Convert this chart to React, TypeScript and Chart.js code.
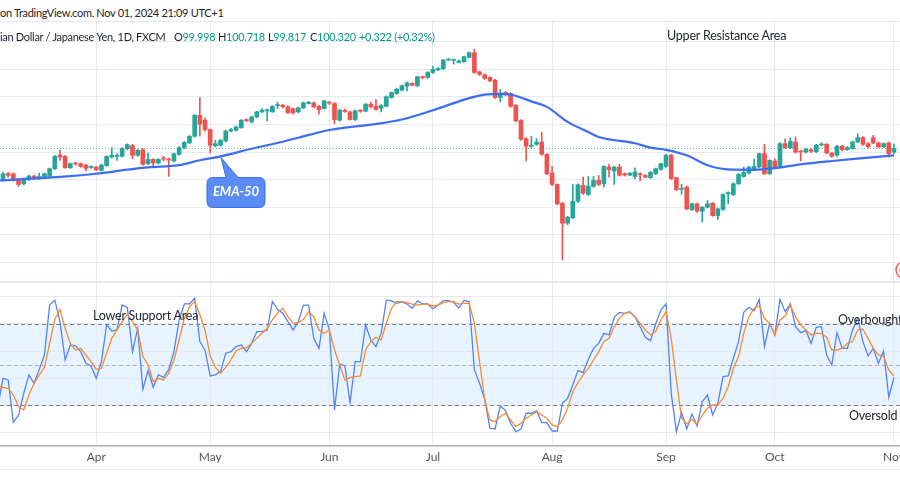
import React, { useEffect, useRef } from "react";
import { Chart, registerables } from "chart.js";

Chart.register(...registerables);

// ---------- categories / calendar ----------
const START_DATE = "2024-03-06"; // first daily bar (weekdays only)
const monthLabels = ["Apr", "May", "Jun", "Jul", "Aug", "Sep", "Oct", "Nov"];

// ---------- AUD/JPY daily OHLC ----------
const openP = [
  97.48, 98.02, 98.02, 97.48, 97.11, 97.48, 97.81, 97.57, 97.66, 97.78,
  98.48, 99.70, 99.60, 98.57, 98.97, 98.94, 98.81, 98.57, 98.63, 98.33,
  98.75, 99.54, 99.60, 99.60, 100.30, 100.58, 99.70, 100.21, 98.94, 99.33,
  99.00, 99.42, 99.33, 99.18, 99.79, 100.40, 100.82, 101.43, 103.34, 102.89,
  102.04, 100.55, 100.61, 101.00, 101.91, 101.98, 102.22, 102.92, 102.74, 103.19,
  103.65, 103.74, 103.65, 104.22, 104.26, 104.10, 103.95, 103.65, 104.01, 104.41,
  104.47, 104.16, 103.95, 104.50, 104.41, 102.89, 103.80, 103.65, 102.95, 103.77,
  103.71, 104.35, 104.16, 103.98, 104.16, 104.95, 105.32, 105.62, 105.99, 106.23,
  106.02, 106.81, 106.78, 107.23, 107.45, 107.57, 108.36, 108.33, 108.15, 108.21,
  108.60, 109.03, 107.29, 107.02, 106.78, 106.53, 104.95, 105.41, 105.32, 104.26,
  102.89, 101.22, 100.52, 100.70, 100.91, 99.79, 98.08, 97.05, 95.35, 93.53,
  94.01, 95.53, 96.96, 96.14, 96.87, 97.42, 97.11, 98.63, 98.27, 98.63,
  98.02, 97.90, 97.78, 98.00, 97.87, 97.66, 98.02, 98.42, 98.69, 99.70,
  97.66, 96.60, 96.81, 94.77, 95.29, 94.62, 94.98, 95.35, 94.22, 94.77,
  96.20, 96.11, 97.11, 97.78, 98.08, 98.48, 98.63, 99.85, 98.02, 99.18,
  98.63, 100.76, 100.40, 100.91, 100.09, 100.00, 100.21, 100.03, 100.64, 100.70,
  99.91, 99.70, 100.52, 100.21, 100.30, 100.91, 101.31, 100.76, 101.31, 100.82,
  100.46, 100.82, 99.998,
];
const highP = [
  98.18, 98.15, 98.10, 97.55, 97.65, 97.90, 97.90, 98.08, 98.10, 98.55,
  99.70, 100.15, 99.70, 99.00, 99.05, 99.00, 98.90, 98.75, 98.70, 98.90,
  99.65, 100.40, 99.85, 100.40, 100.75, 100.70, 100.25, 100.30, 99.91, 99.40,
  99.40, 99.60, 99.45, 99.90, 100.50, 100.95, 101.50, 103.40, 104.95, 103.10,
  102.10, 101.06, 101.15, 102.00, 102.15, 102.35, 102.95, 103.00, 103.25, 103.70,
  103.95, 103.90, 104.20, 104.53, 104.35, 104.20, 104.00, 104.10, 104.55, 104.60,
  104.55, 104.25, 104.70, 104.60, 104.50, 103.90, 103.90, 103.70, 103.80, 103.85,
  104.40, 104.53, 104.77, 104.30, 105.10, 105.45, 105.80, 106.10, 106.35, 106.30,
  106.90, 106.90, 107.30, 107.81, 107.68, 108.42, 108.50, 108.45, 108.35, 108.72,
  109.10, 109.33, 107.35, 107.10, 106.85, 106.60, 105.68, 105.50, 105.40, 104.30,
  102.95, 101.30, 101.43, 101.22, 101.79, 99.85, 98.69, 97.10, 95.40, 94.15,
  97.05, 97.10, 97.72, 97.78, 97.78, 97.87, 98.75, 98.88, 98.70, 98.88,
  98.10, 98.15, 98.57, 98.10, 97.95, 98.22, 98.55, 99.00, 99.80, 99.80,
  97.70, 97.05, 96.90, 95.35, 95.35, 95.05, 95.59, 95.40, 94.90, 96.20,
  96.38, 97.20, 98.05, 98.63, 98.70, 99.36, 99.90, 100.70, 99.30, 99.39,
  100.85, 101.19, 101.28, 101.37, 100.15, 100.30, 100.30, 100.70, 100.85, 100.78,
  99.95, 100.60, 100.60, 100.50, 101.00, 101.67, 101.40, 100.85, 101.52, 100.90,
  100.85, 100.90, 100.718,
];
const lowP = [
  97.36, 97.72, 97.35, 96.87, 97.00, 97.40, 97.50, 97.50, 97.60, 97.70,
  98.40, 99.24, 98.50, 98.50, 98.80, 98.60, 98.27, 98.50, 98.30, 98.27,
  98.70, 99.45, 99.24, 99.55, 100.20, 99.39, 99.60, 98.80, 98.85, 98.63,
  98.90, 99.18, 97.78, 99.10, 99.70, 100.30, 100.75, 101.35, 101.43, 101.90,
  99.91, 100.46, 100.50, 100.90, 101.85, 101.90, 102.15, 102.75, 102.65, 103.10,
  103.56, 102.83, 103.60, 103.95, 104.00, 103.50, 103.45, 103.55, 103.95, 104.35,
  104.00, 103.43, 103.90, 104.30, 102.58, 102.80, 103.60, 102.90, 102.85, 103.60,
  103.65, 104.00, 103.80, 103.65, 104.10, 104.90, 105.25, 105.55, 105.56, 106.00,
  105.95, 106.65, 106.70, 107.15, 107.40, 107.50, 108.30, 107.99, 108.10, 108.15,
  108.55, 107.15, 106.95, 106.60, 106.40, 104.88, 104.56, 105.10, 104.05, 102.75,
  101.05, 99.18, 100.40, 100.60, 99.70, 97.95, 96.95, 95.20, 90.18, 93.40,
  93.95, 95.40, 96.15, 96.05, 96.80, 96.95, 96.81, 97.72, 97.05, 97.80,
  97.80, 97.85, 97.57, 97.36, 97.65, 97.60, 97.95, 98.35, 98.60, 97.50,
  96.50, 96.14, 94.75, 94.70, 94.50, 93.62, 94.90, 94.15, 93.86, 94.70,
  95.29, 96.05, 97.05, 97.70, 98.00, 98.40, 98.55, 97.95, 97.95, 98.50,
  98.55, 100.30, 100.30, 99.90, 99.18, 99.90, 99.95, 99.95, 100.55, 99.85,
  99.50, 99.60, 100.10, 100.15, 100.25, 100.85, 100.60, 100.35, 100.75, 100.40,
  100.40, 99.54, 99.817,
];
const closeP = [
  98.02, 97.87, 97.42, 97.05, 97.57, 97.81, 97.57, 97.78, 98.02, 98.48,
  99.60, 99.54, 98.57, 98.94, 98.91, 98.69, 98.51, 98.69, 98.39, 98.81,
  99.60, 99.70, 99.70, 100.30, 100.67, 99.70, 100.15, 98.88, 99.33, 99.00,
  99.33, 99.36, 99.27, 99.85, 100.40, 100.88, 101.43, 103.34, 102.52, 102.04,
  100.61, 100.76, 101.06, 101.91, 102.04, 102.28, 102.89, 102.86, 103.19, 103.65,
  103.80, 103.80, 104.16, 104.28, 104.10, 103.56, 103.56, 104.01, 104.47, 104.53,
  104.10, 103.86, 104.65, 104.44, 102.95, 103.80, 103.68, 102.95, 103.74, 103.71,
  104.35, 104.10, 103.86, 104.22, 105.02, 105.41, 105.71, 106.02, 106.29, 106.08,
  106.84, 106.75, 107.23, 107.51, 107.60, 108.36, 108.42, 108.39, 108.27, 108.66,
  109.03, 107.23, 107.05, 106.69, 106.47, 104.95, 105.32, 105.26, 104.16, 102.83,
  101.16, 100.52, 100.61, 100.91, 99.79, 98.02, 97.05, 95.29, 93.53, 94.07,
  95.53, 97.02, 96.26, 96.90, 97.42, 97.05, 98.69, 98.39, 98.63, 97.90,
  97.90, 98.08, 98.18, 97.93, 97.72, 98.15, 98.48, 98.94, 99.70, 97.57,
  96.57, 96.66, 94.83, 95.29, 94.62, 94.98, 95.29, 94.22, 94.83, 96.14,
  96.32, 97.11, 97.96, 98.15, 98.63, 98.69, 99.85, 98.02, 99.24, 98.57,
  100.76, 100.40, 100.97, 100.00, 100.00, 100.24, 100.06, 100.61, 100.70, 99.91,
  99.60, 100.52, 100.21, 100.40, 100.91, 101.31, 100.70, 100.46, 100.82, 100.46,
  100.76, 99.85, 100.320,
];

// ---------- EMA-50 (read at sample bars) ----------
const emaIdx = [-1, 0, 13, 18, 24, 28, 34, 38, 42, 48, 53, 57, 63, 73, 77, 83, 90, 93, 96, 98, 102, 105, 109, 113, 115, 122, 125, 128, 132, 136, 141, 145, 149, 154, 160, 167, 172];
const emaVal = [97.4, 97.42, 97.8, 98.02, 98.39, 98.6, 98.8, 99.25, 99.6, 100.3, 100.82, 101.3, 102.0, 102.6, 102.95, 103.8, 104.9, 105.22, 105.28, 105.22, 104.6, 104.1, 102.74, 101.82, 101.37, 100.8, 100.4, 100.2, 99.7, 98.8, 98.39, 98.38, 98.54, 98.88, 99.18, 99.48, 99.7];

// ---------- Stochastic (first value belongs to bar -1) ----------
const stochStart = -1;
const stochK = [
  19.0,
  39.9, 38.7, 7.4, 12.8, 28.8, 42.4, 36.2, 46.5, 57.1, 94.0,
  97.6, 81.7, 53.4, 64.5, 63.8, 59.6, 51.0, 49.0, 39.9, 52.2,
  79.3, 74.8, 75.6, 94.0, 92.3, 59.6, 76.8, 31.8, 45.6, 33.3,
  42.4, 40.6, 46.5, 59.6, 83.0, 94.8, 94.8, 99.0, 67.0, 60.8,
  41.6, 42.4, 44.8, 58.4, 59.6, 63.3, 64.5, 59.6, 65.7, 74.4,
  74.4, 75.6, 96.5, 90.8, 87.9, 81.7, 75.6, 81.7, 94.0, 94.0,
  69.4, 62.0, 87.9, 76.1, 16.5, 50.5, 49.0, 21.9, 52.2, 52.2,
  79.3, 68.2, 63.3, 73.1, 97.6, 97.1, 95.2, 96.4, 94.8, 91.6,
  97.1, 94.8, 94.8, 91.1, 94.0, 97.3, 97.3, 96.0, 91.6, 97.6,
  96.4, 46.1, 36.2, 24.4, 3.0, 2.5, 19.5, 16.1, 6.7, 0.5,
  2.5, 14.1, 14.1, 16.1, 7.2, 7.2, 1.0, 1.0, 21.5, 25.1,
  35.0, 45.6, 44.1, 53.9, 62.0, 65.7, 73.1, 71.9, 84.9, 88.5,
  87.9, 89.1, 85.4, 78.0, 70.2, 67.7, 80.0, 90.3, 94.8, 28.8,
  0.5, 14.6, 2.5, 13.6, 4.7, 22.7, 27.6, 12.8, 21.5, 41.1,
  41.6, 54.7, 67.0, 88.6, 92.3, 89.8, 98.2, 63.3, 80.5, 71.9,
  98.2, 89.1, 94.8, 78.0, 73.6, 75.1, 65.7, 77.5, 78.0, 57.1,
  49.7, 73.6, 62.0, 62.0, 75.6, 84.2, 67.0, 56.4, 62.0, 51.0,
  60.0, 25.9, 40.6,
];
const stochD = [
  34.0,
  33.2, 32.5, 27.6, 19.0, 16.5, 27.6, 36.2, 42.4, 48.0, 65.7,
  83.4, 90.8, 76.8, 65.7, 60.8, 62.0, 57.1, 52.2, 46.5, 47.3,
  58.4, 69.4, 75.6, 81.7, 87.1, 81.7, 75.6, 55.9, 49.7, 37.4,
  39.9, 38.7, 43.6, 53.4, 68.2, 84.2, 92.8, 96.5, 86.8, 75.6,
  56.4, 48.0, 43.6, 48.0, 53.4, 60.3, 62.0, 62.5, 65.7, 69.4,
  73.1, 76.8, 83.0, 87.9, 91.6, 85.4, 80.5, 81.0, 83.4, 89.1,
  85.4, 75.6, 73.1, 75.6, 60.8, 49.7, 38.7, 40.4, 41.1, 41.6,
  60.8, 67.0, 70.2, 68.2, 80.5, 91.6, 96.5, 96.5, 95.7, 94.7,
  94.0, 94.7, 94.7, 93.3, 94.0, 95.7, 96.5, 96.5, 94.7, 95.2,
  95.2, 80.5, 52.2, 23.9, 9.2, 7.9, 11.6, 14.1, 9.2, 4.2,
  6.7, 10.4, 12.8, 15.3, 12.8, 10.4, 5.5, 4.2, 9.2, 17.8,
  30.0, 36.7, 42.4, 47.3, 53.4, 59.6, 67.0, 69.4, 78.0, 84.2,
  87.9, 88.6, 85.4, 80.5, 75.6, 71.9, 74.4, 83.0, 89.1, 69.4,
  38.7, 10.4, 6.2, 9.6, 6.2, 12.8, 17.8, 20.2, 20.2, 25.1,
  33.7, 47.3, 55.9, 73.1, 85.4, 91.6, 93.3, 84.2, 80.5, 71.9,
  83.0, 85.9, 94.0, 85.4, 79.3, 75.6, 71.9, 73.1, 73.1, 70.2,
  60.8, 60.8, 62.0, 65.7, 67.0, 75.6, 76.1, 69.4, 62.0, 57.1,
  56.4, 46.1, 41.6,
];

// ---------- axis levels ----------
const priceGrid = [90, 92.5, 95, 97.5, 100, 102.5, 105, 107.5, 110];
const stochGrid = [0, 20, 40, 60, 80, 100];
const stochBand = [20, 80];
const stochMid = 50;

// ---------- styling ----------
const UP = "#26a69a";
const DOWN = "#ef5350";
const GRID = "#e5eaf1";
const FONT = "Lato, 'Open Sans', sans-serif";
const CANVAS_W = 940;
const X_MIN = -0.5792;
const X_MAX = X_MIN + CANVAS_W / 5.18;

function buildDates(start: string, n: number): Date[] {
  const out: Date[] = [];
  const d = new Date(start + "T00:00:00Z");
  while (out.length < n) {
    const wd = d.getUTCDay();
    if (wd !== 0 && wd !== 6) out.push(new Date(d.getTime()));
    d.setUTCDate(d.getUTCDate() + 1);
  }
  return out;
}

export default function App() {
  const topRef = useRef<HTMLCanvasElement>(null);
  const botRef = useRef<HTMLCanvasElement>(null);

  useEffect(() => {
    const n = closeP.length;
    const dates = buildDates(START_DATE, n);
    const monthStarts: number[] = [];
    for (let i = 1; i < n; i++) {
      if (dates[i].getUTCMonth() !== dates[i - 1].getUTCMonth()) monthStarts.push(i);
    }
    const tickLabel: Record<number, string> = {};
    monthStarts.forEach((idx, k) => (tickLabel[idx] = monthLabels[k] ?? ""));

    const bodies = closeP.map((c, i) => ({ x: i, y: [openP[i], c] }));
    const wicks = closeP.map((_, i) => ({ x: i, y: [lowP[i], highP[i]] }));
    const colors = closeP.map((c, i) => (c >= openP[i] ? UP : DOWN));
    const ema = emaIdx.map((x, k) => ({ x, y: emaVal[k] }));
    const kPts = stochK.map((v, k) => ({ x: k + stochStart, y: v }));
    const dPts = stochD.map((v, k) => ({ x: k + stochStart, y: v }));
    const lastClose = closeP[n - 1];

    const xScaleBase = {
      type: "linear" as const,
      min: X_MIN,
      max: X_MAX,
      offset: false,
      afterBuildTicks: (s: any) => {
        s.ticks = monthStarts.map((v) => ({ value: v }));
      },
      grid: { color: GRID, drawTicks: false, lineWidth: 1, offset: false },
    };

    const priceLine = {
      id: "priceLine",
      beforeDatasetsDraw(chart: any) {
        const { ctx, chartArea, scales } = chart;
        const y = Math.round(scales.y.getPixelForValue(lastClose)) + 0.5;
        ctx.save();
        ctx.strokeStyle = "rgba(38,166,154,0.75)";
        ctx.lineWidth = 1;
        ctx.setLineDash([1, 2]);
        ctx.beginPath();
        ctx.moveTo(chartArea.left, y);
        ctx.lineTo(chartArea.right, y);
        ctx.stroke();
        ctx.restore();
      },
    };

    const top = new Chart(topRef.current as HTMLCanvasElement, {
      type: "bar",
      data: {
        datasets: [
          {
            type: "line",
            data: ema,
            borderColor: "#3d6df2",
            borderWidth: 2.2,
            pointRadius: 0,
            cubicInterpolationMode: "monotone",
            order: 0,
          } as any,
          {
            type: "bar",
            data: bodies,
            backgroundColor: colors,
            barThickness: 4,
            grouped: false,
            minBarLength: 1,
            borderWidth: 0,
            order: 1,
          } as any,
          {
            type: "bar",
            data: wicks,
            backgroundColor: colors,
            barThickness: 1,
            grouped: false,
            borderWidth: 0,
            order: 2,
          } as any,
        ],
      },
      options: {
        animation: false,
        responsive: false,
        maintainAspectRatio: false,
        events: [],
        layout: { padding: 0 },
        plugins: { legend: { display: false }, tooltip: { enabled: false } },
        scales: {
          x: { ...xScaleBase, ticks: { display: false }, border: { display: false } },
          y: {
            type: "linear",
            min: 88.182,
            max: 111.818,
            afterBuildTicks: (s: any) => {
              s.ticks = priceGrid.map((v) => ({ value: v }));
            },
            ticks: { display: false },
            grid: { color: GRID, drawTicks: false },
            border: { display: false },
          },
        },
      } as any,
      plugins: [priceLine],
    });

    const bands = {
      id: "bands",
      beforeDraw(chart: any) {
        const { ctx, chartArea, scales } = chart;
        const y1 = scales.y.getPixelForValue(stochBand[1]);
        const y0 = scales.y.getPixelForValue(stochBand[0]);
        ctx.save();
        ctx.fillStyle = "rgba(33,150,243,0.11)";
        ctx.fillRect(chartArea.left, y1, chartArea.right - chartArea.left, y0 - y1);
        ctx.restore();
      },
      beforeDatasetsDraw(chart: any) {
        const { ctx, chartArea, scales } = chart;
        const lines: [number, string][] = [
          [stochBand[1], "#7b7e88"],
          [stochMid, "rgba(123,126,136,0.55)"],
          [stochBand[0], "#7b7e88"],
        ];
        ctx.save();
        ctx.lineWidth = 1;
        ctx.setLineDash([4, 3]);
        lines.forEach(([v, c]) => {
          const y = Math.round(scales.y.getPixelForValue(v)) + 0.5;
          ctx.strokeStyle = c;
          ctx.beginPath();
          ctx.moveTo(chartArea.left, y);
          ctx.lineTo(chartArea.right, y);
          ctx.stroke();
        });
        ctx.restore();
      },
    };

    const bot = new Chart(botRef.current as HTMLCanvasElement, {
      type: "line",
      data: {
        datasets: [
          {
            data: dPts,
            borderColor: "#f78b33",
            borderWidth: 1.3,
            pointRadius: 0,
            tension: 0,
            order: 0,
          },
          {
            data: kPts,
            borderColor: "#5483f5",
            borderWidth: 1.3,
            pointRadius: 0,
            tension: 0,
            order: 1,
          },
        ],
      },
      options: {
        animation: false,
        responsive: false,
        maintainAspectRatio: false,
        events: [],
        layout: { padding: 0 },
        plugins: { legend: { display: false }, tooltip: { enabled: false } },
        scales: {
          x: {
            ...xScaleBase,
            ticks: {
              display: true,
              autoSkip: false,
              maxRotation: 0,
              padding: 4,
              color: "#50535e",
              font: { family: FONT, size: 12 },
              callback: (v: any) => tickLabel[v] ?? "",
            },
            border: { display: true, color: "#a9acb5", width: 1.5 },
          },
          y: {
            type: "linear",
            min: -9.78,
            max: 111.0,
            afterBuildTicks: (s: any) => {
              s.ticks = stochGrid.map((v) => ({ value: v }));
            },
            ticks: { display: false },
            grid: { color: GRID, drawTicks: false },
            border: { display: false },
          },
        },
      } as any,
      plugins: [bands],
    });

    return () => {
      top.destroy();
      bot.destroy();
    };
  }, []);

  const txt = (extra: React.CSSProperties): React.CSSProperties => ({
    position: "absolute",
    whiteSpace: "nowrap",
    lineHeight: 1,
    color: "#1e222d",
    ...extra,
  });
  const val = "#089981";
  const hdr: React.CSSProperties = { fontSize: 11, letterSpacing: -0.3 };
  const ann: React.CSSProperties = { fontSize: 12.5, letterSpacing: -0.2 };

  return (
    <div
      style={{
        position: "absolute",
        left: 0,
        top: 0,
        width: 900,
        height: 500,
        overflow: "hidden",
        background: "#ffffff",
        fontFamily: FONT,
      }}
    >
      <canvas
        ref={topRef}
        width={CANVAS_W}
        height={260}
        style={{ position: "absolute", left: 0, top: 22, width: CANVAS_W, height: 260 }}
      />
      <canvas
        ref={botRef}
        width={CANVAS_W}
        height={186}
        style={{ position: "absolute", left: 0, top: 282, width: CANVAS_W, height: 186 }}
      />
      {/* separators */}
      <div style={{ position: "absolute", left: 0, top: 21, width: 900, height: 1, background: "#e3e7ee" }} />
      <div style={{ position: "absolute", left: 0, top: 281, width: 900, height: 2, background: "#e6e9ef" }} />
      <div style={{ position: "absolute", left: 0, top: 469, width: 900, height: 1, background: "#e3e7ee" }} />

      {/* header */}
      <div style={txt({ left: 0, top: 7, ...hdr })}>on TradingView.com, Nov 01, 2024 21:09 UTC+1</div>
      <div style={txt({ left: 0, top: 31, ...hdr })}>ian Dollar / Japanese Yen, 1D, FXCM</div>
      <div style={txt({ left: 174, top: 31, ...hdr })}>
        O<span style={{ color: val }}>99.998</span>
      </div>
      <div style={txt({ left: 218, top: 31, ...hdr })}>
        H<span style={{ color: val }}>100.718</span>
      </div>
      <div style={txt({ left: 268, top: 31, ...hdr })}>
        L<span style={{ color: val }}>99.817</span>
      </div>
      <div style={txt({ left: 310, top: 31, ...hdr })}>
        C<span style={{ color: val }}>100.320</span>
      </div>
      <div style={txt({ left: 359, top: 31, ...hdr, color: val })}>+0.322 (+0.32%)</div>

      {/* annotations */}
      <div style={txt({ left: 667, top: 30, ...ann })}>Upper Resistance Area</div>
      <div style={txt({ left: 93, top: 310, ...ann })}>Lower Support Area</div>
      <div style={txt({ left: 838, top: 313.5, ...ann })}>Overbought</div>
      <div style={txt({ left: 849, top: 410, ...ann })}>Oversold</div>

      {/* EMA-50 callout */}
      <svg width={900} height={500} style={{ position: "absolute", left: 0, top: 0, pointerEvents: "none" }}>
        <path
          d="M213 177.5 L226 177.5 L221 157.5 L238 177.5 L259 177.5 Q265 177.5 265 183.5 L265 201.5 Q265 207.5 259 207.5 L213 207.5 Q207 207.5 207 201.5 L207 183.5 Q207 177.5 213 177.5 Z"
          fill="#5b8cf5"
          stroke="#3f6fe6"
          strokeWidth={1}
        />
        <circle cx={904} cy={270} r={8} fill="#ffffff" stroke="#f05a63" strokeWidth={1.5} />
        <circle cx={904} cy={270} r={5} fill="#f7a5ab" />
      </svg>
      <div
        style={txt({
          left: 207,
          top: 185,
          width: 58,
          textAlign: "center",
          fontSize: 13,
          fontStyle: "italic",
          fontWeight: 700,
          color: "#ffffff",
        })}
      >
        EMA-50
      </div>
    </div>
  );
}
